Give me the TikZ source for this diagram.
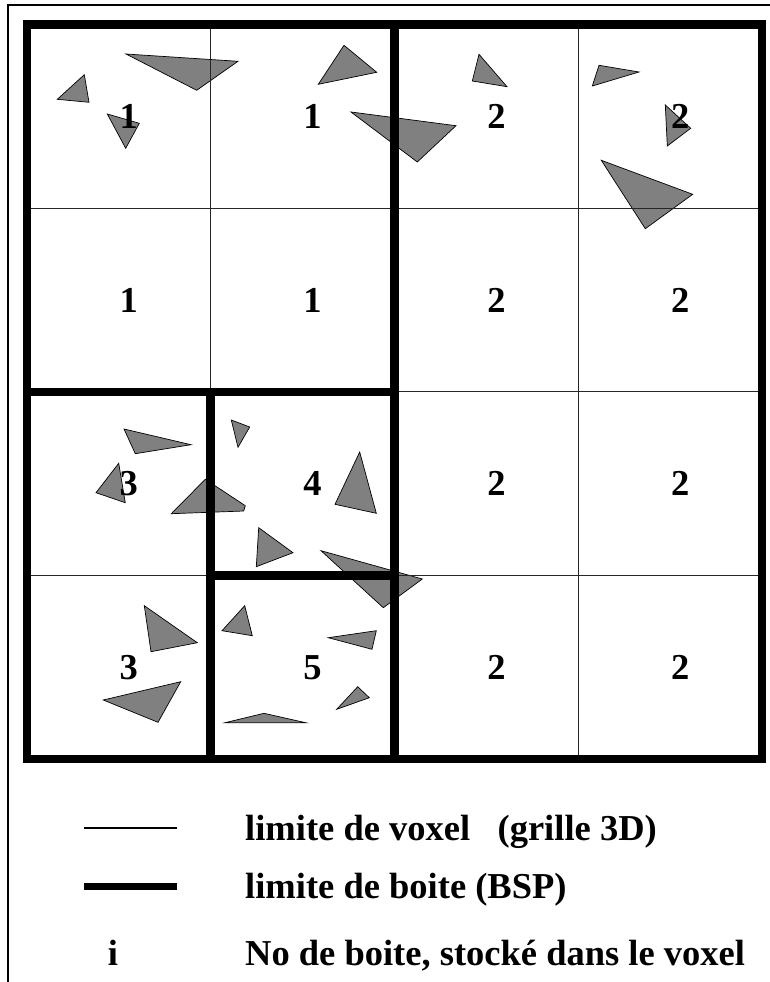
\documentclass[tikz,border=0pt]{standalone}
\usepackage{fontspec}
\setmainfont{Liberation Serif}
\definecolor{trigris}{RGB}{128,128,128}

\begin{document}
\begin{tikzpicture}[
x=1pt, y=-1pt,
every node/.style={
inner sep=0pt,
font=\bfseries\fontsize{36.5}{40}\selectfont
},
tri/.style={fill=trigris, draw=black, line width=0.7pt},
voxel/.style={draw=black!85, line width=1pt},
boite/.style={draw=black, line width=8.5pt, line join=miter}
]
\useasboundingbox (0,0) rectangle (770,982);

\draw[line width=2pt] (8.3,982) -- (8.3,5) -- (770,5);

% triangles
\filldraw[tri] (57.3,99.3) -- (84.3,74.7) -- (89,102.3) -- cycle;
\filldraw[tri] (126,54) -- (238,61.3) -- (196.7,90.3) -- cycle;
\filldraw[tri] (107.3,114) -- (139.3,123.3) -- (125.7,148.3) -- cycle;
\filldraw[tri] (318.3,84.3) -- (344,45.3) -- (376.7,72.3) -- cycle;
\filldraw[tri] (351,112) -- (456,125.7) -- (417.3,162) -- cycle;
\filldraw[tri] (479,54.3) -- (472.3,81) -- (507,86.7) -- cycle;
\filldraw[tri] (599,65.3) -- (639,72) -- (592.3,86) -- cycle;
\filldraw[tri] (665.3,105) -- (690.7,128.3) -- (667.3,146) -- cycle;
\filldraw[tri] (601.3,160.3) -- (692.7,194.3) -- (645.3,228.7) -- cycle;
\filldraw[tri] (124,429) -- (191,444.7) -- (135.3,453.7) -- cycle;
\filldraw[tri] (118.7,463.3) -- (96,492.7) -- (125.3,502.7) -- cycle;
\filldraw[tri] (171.3,513.7) -- (205.3,479.3) -- (245.3,505.7) -- (243.7,511) -- cycle;
\filldraw[tri] (231.3,420) -- (249.7,427) -- (238,447.3) -- cycle;
\filldraw[tri] (359.7,452) -- (335,504.3) -- (376.3,513.3) -- cycle;
\filldraw[tri] (258.7,527.7) -- (293,552.7) -- (256.3,566.7) -- cycle;
\filldraw[tri] (321,550.7) -- (422.3,579) -- (383.3,607.7) -- cycle;
\filldraw[tri] (144.3,605.7) -- (197.3,642.7) -- (151,651.7) -- cycle;
\filldraw[tri] (244.7,605.7) -- (252.3,635.7) -- (222,630.7) -- cycle;
\filldraw[tri] (328.3,637.7) -- (376.3,630.7) -- (372,649.3) -- cycle;
\filldraw[tri] (180.7,681.7) -- (103.3,700) -- (158,722.3) -- cycle;
\filldraw[tri] (357.7,686.7) -- (369.3,697.7) -- (336.7,709.3) -- cycle;
\filldraw[tri] (225,722.7) -- (264,713.3) -- (305.7,722.7) -- cycle;

% grille 3D
\draw[voxel] (210.65,24.7) -- (210.65,759.1);
\draw[voxel] (578.35,24.7) -- (578.35,759.1);
\draw[voxel] (26.8,208.3) -- (762.2,208.3);
\draw[voxel] (26.8,391.9) -- (762.2,391.9);
\draw[voxel] (26.8,575.5) -- (762.2,575.5);

% boites BSP
\draw[boite] (26.8,24.7) rectangle (762.2,759.1);
\draw[boite] (394.5,24.7) -- (394.5,759.1);
\draw[boite] (26.8,391.9) -- (394.5,391.9);
\draw[boite] (210.65,391.9) -- (210.65,759.1);
\draw[boite] (210.65,575.5) -- (394.5,575.5);

% numeros de boite
\node (c11) at (128.7,116.5) {1};
\node (c12) at (312.6,116.5) {1};
\node (c13) at (496.4,116.5) {2};
\node (c14) at (680.3,116.5) {2};
\node (c21) at (128.7,300.1) {1};
\node (c22) at (312.6,300.1) {1};
\node (c23) at (496.4,300.1) {2};
\node (c24) at (680.3,300.1) {2};
\node (c31) at (128.7,483.7) {3};
\node (c32) at (312.6,483.7) {4};
\node (c33) at (496.4,483.7) {2};
\node (c34) at (680.3,483.7) {2};
\node (c41) at (128.7,667.3) {3};
\node (c42) at (312.6,667.3) {5};
\node (c43) at (496.4,667.3) {2};
\node (c44) at (680.3,667.3) {2};

% legende
\draw[line width=1.2pt] (84,828) -- (177,828);
\draw[line width=7pt] (84,886) -- (177,886);
\node[anchor=base] (Li) at (113,965) {i};
\node[anchor=base west] (Lv) at (245,840) {limite de voxel\ \ \ (grille 3D)};
\node[anchor=base west] (Lb) at (245,898) {limite de boite (BSP)};
\node[anchor=base west] (Ln) at (245,965) {No de boite, stocké dans le voxel};

\end{tikzpicture}
\end{document}
